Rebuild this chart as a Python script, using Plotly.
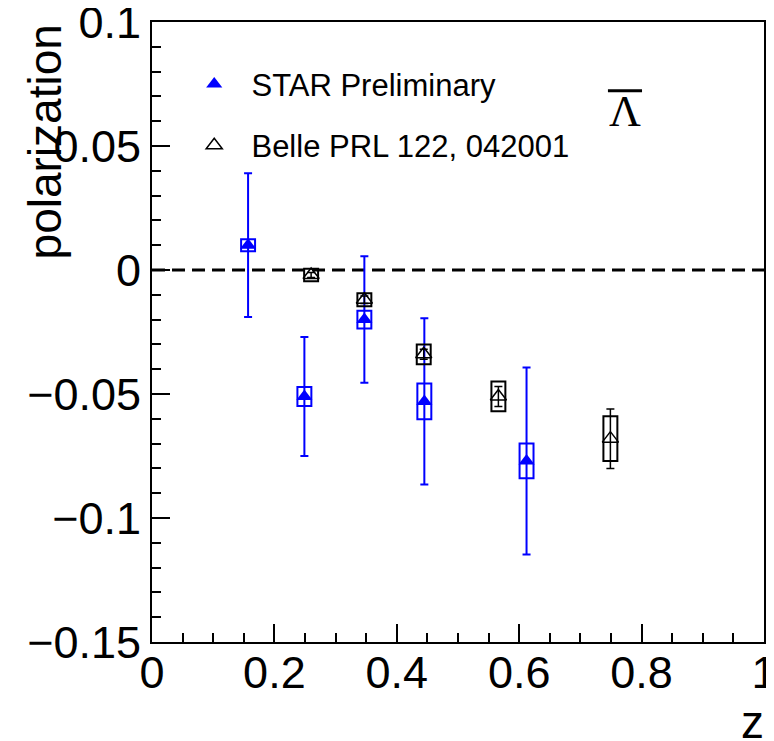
import plotly.graph_objects as go

# ---------------- data ----------------
star_z = [0.157, 0.249, 0.347, 0.445, 0.612]
star_pol = [0.010, -0.051, -0.020, -0.053, -0.077]
star_stat = [0.029, 0.024, 0.0255, 0.0335, 0.0377]
star_sys = [0.0024, 0.0038, 0.0036, 0.0072, 0.0070]

belle_z = [0.260, 0.347, 0.444, 0.566, 0.749]
belle_pol = [-0.002, -0.012, -0.034, -0.051, -0.068]
belle_stat = [0.001, 0.0015, 0.002, 0.004, 0.012]
belle_sys = [0.0025, 0.0026, 0.004, 0.006, 0.009]

x_ticks = [0, 0.2, 0.4, 0.6, 0.8, 1]
x_labels = ["0", "0.2", "0.4", "0.6", "0.8", "1"]
y_ticks = [-0.15, -0.1, -0.05, 0, 0.05, 0.1]
y_labels = ["\u22120.15", "\u22120.1", "\u22120.05", "0", "0.05", "0.1"]

BOX_HALF_W = 0.0114  # half width of systematic boxes (style)

BLUE = "#0000ff"
BLACK = "#000000"
FONT = "Liberation Sans, Arial, sans-serif"

fig = go.Figure()

fig.add_trace(go.Scatter(
    x=star_z, y=star_pol, mode="markers",
    name="\u00a0\u00a0STAR Preliminary",
    marker=dict(symbol="triangle-up", size=14, color=BLUE),
    error_y=dict(type="data", array=star_stat, visible=True,
                 color=BLUE, thickness=2, width=4),
    legendgroup="a",
))
fig.add_trace(go.Scatter(
    x=belle_z, y=belle_pol, mode="markers",
    name="\u00a0\u00a0Belle PRL 122, 042001",
    marker=dict(symbol="triangle-up-open", size=14, color=BLACK,
                line=dict(width=1.5, color=BLACK)),
    error_y=dict(type="data", array=belle_stat, visible=True,
                 color=BLACK, thickness=1.5, width=4),
    legendgroup="b",
))

shapes = []
# zero line
shapes.append(dict(type="line", xref="paper", x0=0, x1=1, yref="y", y0=0, y1=0,
                   line=dict(color=BLACK, width=3, dash="13px,7px"), layer="below"))
# systematic boxes
for zs, ps, ss, col in [(star_z, star_pol, star_sys, BLUE),
                        (belle_z, belle_pol, belle_sys, BLACK)]:
    for z, p, s in zip(zs, ps, ss):
        shapes.append(dict(type="rect", xref="x", yref="y",
                           x0=z - BOX_HALF_W, x1=z + BOX_HALF_W,
                           y0=p - s, y1=p + s,
                           line=dict(color=col, width=2),
                           fillcolor="rgba(0,0,0,0)", layer="above"))
# overline for anti-Lambda
shapes.append(dict(type="line", xref="paper", yref="paper",
                   x0=0.745, x1=0.8007, y0=0.889, y1=0.889,
                   line=dict(color=BLACK, width=3)))

annotations = [
    dict(text="polarization", xref="paper", yref="paper", x=-0.175, y=1.0,
         xanchor="center", yanchor="top", textangle=-90, showarrow=False,
         font=dict(family=FONT, size=46, color=BLACK)),
    dict(text="z", xref="paper", yref="paper", x=1.003, y=-0.129,
         xanchor="right", yanchor="middle", showarrow=False,
         font=dict(family=FONT, size=46, color=BLACK)),
    dict(text="\u039b", xref="paper", yref="paper", x=0.773, y=0.855,
         xanchor="center", yanchor="middle", showarrow=False,
         font=dict(family="Liberation Serif, Times New Roman, serif", size=44, color=BLACK)),
]

# page body has an 8px default margin, so the figure is 8px smaller
fig.update_layout(
    width=766, height=733,
    margin=dict(l=144, r=10, t=14, b=99, autoexpand=False),
    paper_bgcolor="white", plot_bgcolor="white",
    font=dict(family=FONT, color=BLACK),
    shapes=shapes, annotations=annotations,
    showlegend=True,
    legend=dict(x=0.069, y=0.943, xanchor="left", yanchor="top",
                bgcolor="rgba(0,0,0,0)", font=dict(family=FONT, size=31, color=BLACK),
                tracegroupgap=18, itemsizing="trace"),
)
fig.update_xaxes(
    range=[0, 1], tickmode="array", tickvals=x_ticks, ticktext=x_labels,
    ticks="inside", ticklen=18, tickwidth=2, tickcolor=BLACK,
    minor=dict(dtick=0.05, ticks="inside", ticklen=9, tickwidth=2, tickcolor=BLACK),
    showline=True, linewidth=2, linecolor=BLACK, mirror=True,
    showgrid=False, zeroline=False, automargin=False,
    ticklabeloverflow="allow", ticklabelstandoff=-10,
    tickfont=dict(family=FONT, size=45, color=BLACK),
)
fig.update_yaxes(
    range=[-0.15, 0.1], tickmode="array", tickvals=y_ticks, ticktext=y_labels,
    ticks="inside", ticklen=18, tickwidth=2, tickcolor=BLACK,
    minor=dict(dtick=0.01, ticks="inside", ticklen=9, tickwidth=2, tickcolor=BLACK),
    showline=True, linewidth=2, linecolor=BLACK, mirror=True,
    showgrid=False, zeroline=False, automargin=False,
    ticklabeloverflow="allow",
    tickfont=dict(family=FONT, size=45, color=BLACK),
)

fig.write_html("out.html")
